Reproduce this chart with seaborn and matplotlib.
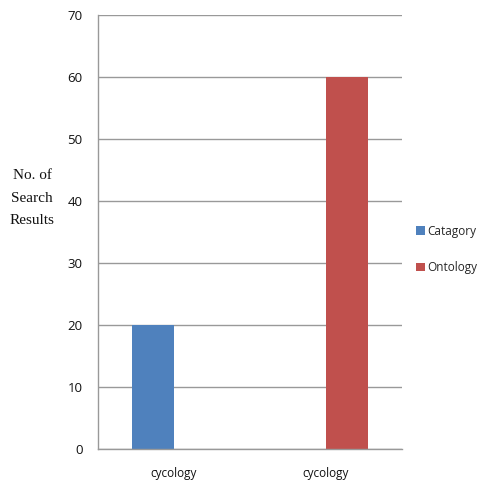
import matplotlib
matplotlib.use("Agg")
import matplotlib.pyplot as plt
import seaborn as sns
import pandas as pd

categories = ["cycology", "cycology"]
series_names = ["Catagory", "Ontology"]
values = [20, 60]
y_ticks = [0, 10, 20, 30, 40, 50, 60, 70]
colors = ["#4F81BD", "#C0504D"]

df = pd.DataFrame({
    "pos": [0, 1],
    "series": series_names,
    "value": values,
})

sns.set_style("white")
fig = plt.figure(figsize=(4.81, 4.86), dpi=100)
ax = fig.add_axes([98/481, 1-449/486, (402-98)/481, (449-15)/486])

sns.barplot(data=df, x="pos", y="value", hue="series", hue_order=series_names,
            palette=colors, width=0.55, dodge=True, saturation=1, ax=ax,
            linewidth=0, errorbar=None)

ax.set_ylim(0, 70)
ax.set_yticks(y_ticks)
ax.set_xlim(-0.5, 1.5)
ax.set_xticks([0, 1])
ax.set_xticklabels(categories)
ax.set_xticks([-0.5, 0.5, 1.5], minor=True)
ax.tick_params(axis="x", which="major", length=0, pad=13, labelsize=8.5, colors="#111111")
ax.tick_params(axis="x", which="minor", length=5, width=1, color="#999999", direction="out")
ax.tick_params(axis="y", length=5, width=1, color="#999999", direction="out", labelsize=9.5, pad=6, colors="#111111")
for lab in ax.get_xticklabels() + ax.get_yticklabels():
    lab.set_fontfamily("Open Sans")
ax.yaxis.grid(True, color="#999999", linewidth=1)
ax.set_axisbelow(True)
for s in ["top", "right"]:
    ax.spines[s].set_visible(False)
for s in ["left", "bottom"]:
    ax.spines[s].set_color("#999999")
    ax.spines[s].set_linewidth(1)
ax.set_xlabel("")
ax.set_ylabel("")

fig.text(32/481, 1-198/486, "No. of\nSearch\nResults", ha="center", va="center",
         family="Liberation Serif", fontsize=11, linespacing=1.95, color="#111111")

leg = ax.legend(loc="center left", bbox_to_anchor=(1.012, 0.46), frameon=False,
                handlelength=0.7, handleheight=0.7, handletextpad=0.2,
                labelspacing=2.0, prop={"family": "Open Sans", "size": 8.5})

fig.savefig("out.png", dpi=100)
